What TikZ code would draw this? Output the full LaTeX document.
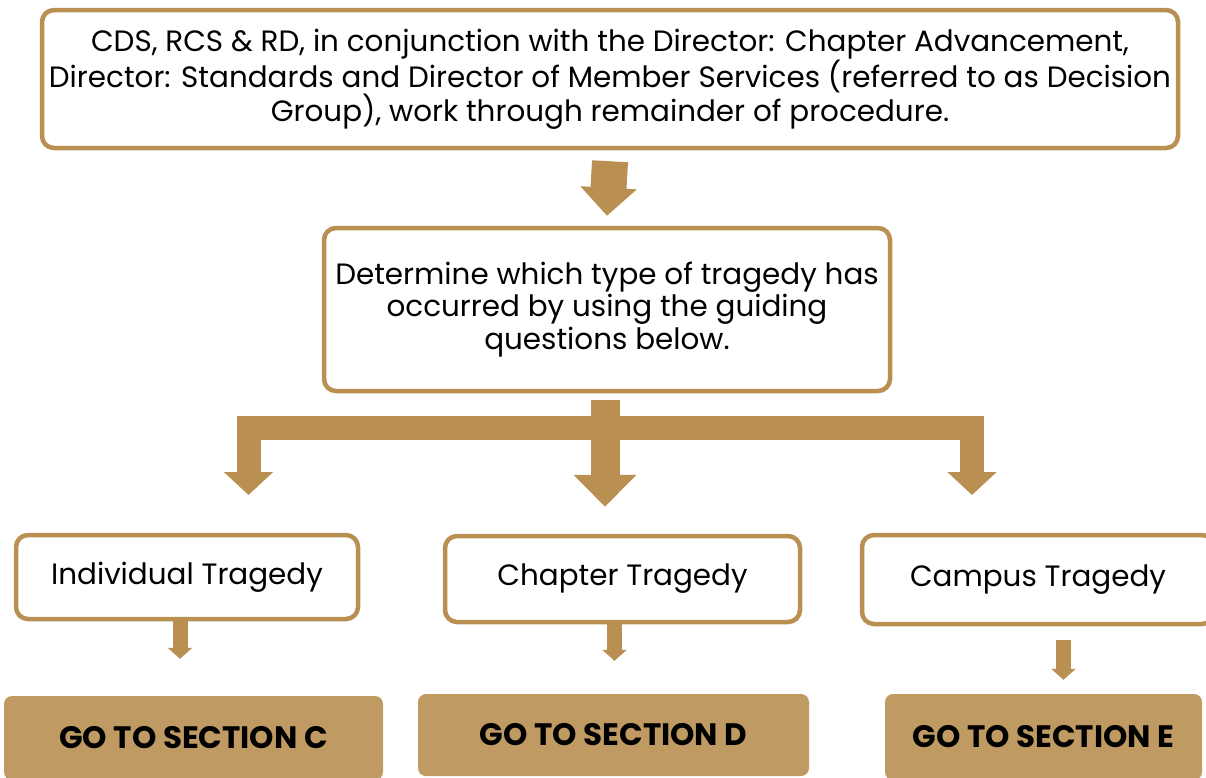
\documentclass[tikz,border=0pt]{standalone}
\usepackage{fontspec}
\setmainfont{Poppins}
\usetikzlibrary{arrows.meta, calc}
\definecolor{gold}{RGB}{185,144,82}
\definecolor{goldfill}{RGB}{191,154,98}
\tikzstyle{stepbox} = [rectangle, 
rounded corners=12pt, 
draw=gold, 
line width=4.5pt, 
fill=white, 
align=center, 
inner sep=0pt, 
font=\fontsize{29.4}{32.5}\selectfont]
\tikzstyle{sectionbox} = [rectangle, 
rounded corners=8pt, 
fill=goldfill, 
inner sep=0pt, 
font=\fontsize{31}{32}\selectfont\bfseries]
\tikzstyle{bigarrow} = [draw=gold, line width=36pt, -{Triangle[width=55pt,length=28pt]}]
\tikzstyle{midarrow} = [draw=gold, line width=29pt, -{Triangle[width=61pt,length=32pt]}]
\tikzstyle{branch} = [draw=gold, line width=24pt, line join=miter, {Triangle[width=48pt,length=23pt]}-{Triangle[width=48pt,length=23pt]}]
\tikzstyle{smallarrow} = [draw=gold, line width=15pt, -{Triangle[width=24pt,length=11pt]}]

\begin{document}
\begin{tikzpicture}[x=1pt,y=-1pt]
\useasboundingbox (0,0) rectangle (1206,777);

\node (decide) [stepbox, minimum width=1136pt, minimum height=138pt] at (610,79) {CDS, RCS \& RD, in conjunction with the Director: Chapter Advancement,\\Director: Standards and Director of Member Services (referred to as Decision\\Group), work through remainder of procedure.};

\node (determine) [stepbox, minimum width=566pt, minimum height=163pt] at (607,309.5) {Determine which type of tragedy has\\occurred by using the guiding\\questions below.};
\draw[bigarrow] ([yshift=-11pt]decide.south) -- ([yshift=10pt]determine.north);

\node (individual) [stepbox, minimum width=342pt, minimum height=84pt] at (187,577) {Individual Tragedy};
\node (chapter) [stepbox, minimum width=355pt, minimum height=86pt] at (622.5,579) {Chapter Tragedy};
\node (campus) [stepbox, minimum width=352pt, minimum height=89pt] at (1038,579.5) {Campus Tragedy};

% split into the three types
\coordinate (tipL) at (248.5,495);
\coordinate (barL) at (248.5,428);
\coordinate (barR) at (972,428);
\coordinate (tipR) at (972,495);
\coordinate (tipM) at ($(determine.south |- chapter.north)+(-2,-27)$);
\draw[branch] (tipL) -- (barL) -- (barR) -- (tipR);
\draw[midarrow] ([xshift=-2pt,yshift=-7pt]determine.south) -- (tipM);

\node (secC) [sectionbox, minimum width=379pt, minimum height=84pt] at (193.5,738) {GO TO SECTION C};
\node (secD) [sectionbox, minimum width=391pt, minimum height=82pt] at (613.5,735) {GO TO SECTION D};
\node (secE) [sectionbox, minimum width=317pt, minimum height=86pt] at (1043.5,737) {GO TO SECTION E};

\draw[smallarrow] ([xshift=-7pt,yshift=1pt]individual.south) -- ([xshift=-13.5pt,yshift=37pt]secC.north);
\draw[smallarrow] ([xshift=-8pt,yshift=1pt]chapter.south) -- ([xshift=1pt,yshift=33pt]secD.north);
\draw[smallarrow] ([xshift=25.5pt,yshift=-14pt]campus.south) -- ([xshift=20pt,yshift=14pt]secE.north);

\end{tikzpicture}
\end{document}
